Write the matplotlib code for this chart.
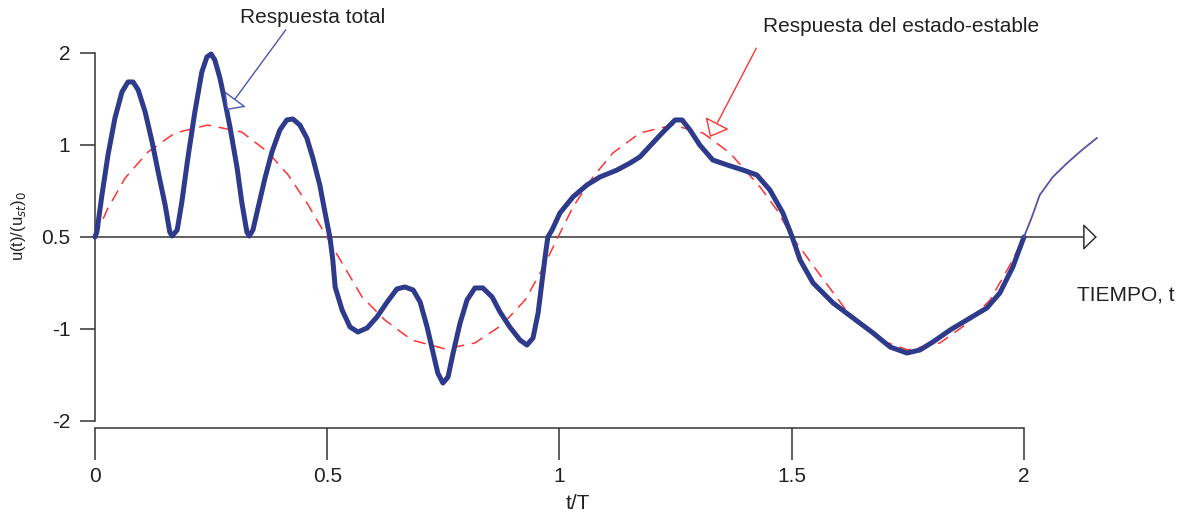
import matplotlib
matplotlib.use("Agg")
import matplotlib.pyplot as plt

plt.rcParams['font.family'] = ['Liberation Sans', 'DejaVu Sans']

# respuesta total (curva azul gruesa), t/T vs u
t_total = [0, 0.004, 0.015, 0.028, 0.043, 0.058, 0.071, 0.082, 0.093, 0.108, 0.123, 0.136, 0.151, 0.161, 0.166,
           0.177, 0.187, 0.200, 0.215, 0.230, 0.241, 0.250, 0.258, 0.269, 0.280, 0.291, 0.306, 0.316, 0.327,
           0.332, 0.340, 0.351, 0.366, 0.381, 0.398, 0.413, 0.426, 0.441, 0.456, 0.469, 0.484, 0.495, 0.506,
           0.512, 0.517, 0.532, 0.549, 0.566, 0.586, 0.607, 0.629, 0.650, 0.667, 0.685, 0.700, 0.715, 0.728,
           0.738, 0.749, 0.760, 0.771, 0.786, 0.801, 0.818, 0.835, 0.855, 0.872, 0.893, 0.915, 0.930, 0.943,
           0.954, 0.962, 0.969, 0.975, 0.984, 1.001, 1.029, 1.059, 1.087, 1.124, 1.152, 1.173,
           1.201, 1.223, 1.249, 1.264, 1.281, 1.302, 1.330, 1.361, 1.395, 1.425, 1.453, 1.481, 1.501, 1.518,
           1.546, 1.589, 1.632, 1.675, 1.712, 1.748, 1.776, 1.804, 1.841, 1.877, 1.920, 1.948, 1.976, 2.0]
u_total = [0, 0.054, 0.457, 0.891, 1.293, 1.576, 1.685, 1.685, 1.598, 1.359, 1.033, 0.707, 0.348, 0.054, 0.011,
           0.076, 0.380, 0.859, 1.359, 1.793, 1.957, 1.989, 1.924, 1.728, 1.467, 1.185, 0.750, 0.380, 0.054,
           0.011, 0.076, 0.315, 0.641, 0.924, 1.163, 1.272, 1.283, 1.217, 1.076, 0.859, 0.565, 0.272, -0.011,
           -0.25, -0.543, -0.793, -0.978, -1.033, -0.989, -0.870, -0.707, -0.565, -0.543, -0.576, -0.707, -0.978, -1.261,
           -1.478, -1.587, -1.522, -1.261, -0.935, -0.685, -0.554, -0.554, -0.652, -0.815, -0.978, -1.120, -1.174, -1.098,
           -0.826, -0.500, -0.217, 0.0, 0.076, 0.261, 0.435, 0.565, 0.652, 0.728, 0.804, 0.870,
           1.022, 1.141, 1.272, 1.272, 1.163, 1.0, 0.837, 0.783, 0.728, 0.674, 0.511, 0.261, 0.0, -0.25,
           -0.5, -0.717, -0.880, -1.043, -1.196, -1.261, -1.228, -1.141, -1.011, -0.902, -0.772, -0.609, -0.326, 0.0]

# continuacion despues de t/T = 2 (linea delgada)
t_cont = [2.0, 2.017, 2.034, 2.062, 2.093, 2.125, 2.157]
u_cont = [0.0, 0.217, 0.457, 0.652, 0.804, 0.946, 1.076]

# respuesta del estado-estable (rojo discontinuo)
t_ss = [0, 0.028, 0.065, 0.114, 0.172, 0.243, 0.316, 0.372, 0.416, 0.459, 0.499, 0.532, 0.575, 0.624,
        0.682, 0.754, 0.818, 0.876, 0.926, 0.962, 0.997, 1.029, 1.072, 1.115, 1.173, 1.244,
        1.309, 1.367, 1.432, 1.468, 1.501, 1.561, 1.625, 1.690, 1.750, 1.819, 1.873, 1.927, 1.970, 2.0]
u_ss = [0, 0.315, 0.641, 0.924, 1.130, 1.217, 1.141, 0.924, 0.674, 0.348, 0.0, -0.283, -0.652, -0.902,
        -1.120, -1.217, -1.152, -0.957, -0.685, -0.359, 0.0, 0.326, 0.652, 0.913, 1.130, 1.217,
        1.130, 0.913, 0.543, 0.293, 0.0, -0.413, -0.848, -1.120, -1.228, -1.152, -0.957, -0.685, -0.304, 0.0]

yticks = [2, 1, 0, -1, -2]
ytick_labels = ['2', '1', '0.5', '-1', '-2']
xticks = [0, 0.5, 1, 1.5, 2]
xtick_labels = ['0', '0.5', '1', '1.5', '2']

blue = '#2E3A8C'
red = '#FF3333'
ink = '#333333'

fig = plt.figure(figsize=(11.87, 5.21), dpi=100)
ax = fig.add_axes([0, 0, 1, 1])
ax.set_xlim(-0.2045, 2.351)
ax.set_ylim(-3.087, 2.576)

ax.plot(t_ss, u_ss, color=red, lw=1.1, dashes=(8, 5), zorder=2)
ax.plot(t_total, u_total, color=blue, lw=3.6, solid_capstyle='round', solid_joinstyle='round', zorder=3)
ax.plot(t_cont, u_cont, color='#4a56b0', lw=1.3, zorder=3)
ax.plot(t_cont, u_cont, color=red, lw=0.5, dashes=(3, 6), alpha=0.7, zorder=3)

# ejes
for s in ['top', 'right']:
    ax.spines[s].set_visible(False)
ax.spines['left'].set_position(('data', 0))
ax.spines['left'].set_bounds(-2, 2)
ax.spines['bottom'].set_position(('data', -2.076))
ax.spines['bottom'].set_bounds(0, 2)
for s in ['left', 'bottom']:
    ax.spines[s].set_color(ink)
    ax.spines[s].set_linewidth(1.1)
ax.set_yticks(yticks)
ax.set_yticklabels(ytick_labels)
ax.set_xticks(xticks)
ax.set_xticklabels(xtick_labels)
ax.tick_params(axis='y', direction='out', length=10.8, width=1.1, color=ink, pad=7, labelsize=15, labelcolor='#222222')
ax.tick_params(axis='x', direction='out', length=23, width=1.1, color=ink, pad=5, labelsize=15, labelcolor='#222222')

# eje de tiempo con flecha
ax.annotate('', xy=(2.157, 0), xytext=(0, 0),
            arrowprops=dict(arrowstyle='-|>,head_length=0.43,head_width=0.42', fc='white', ec=ink,
                            lw=1.1, shrinkA=0, shrinkB=0, mutation_scale=20), zorder=1)

ax.text(2.114, -0.63, 'TIEMPO, t', fontsize=15, color='#222222', ha='left', va='center')
ax.text(1.040, -2.902, 't/T', fontsize=15, color='#222222', ha='center', va='center')
ax.text(-0.1636, 0.12, r'u(t)/(u$_{st}$)$_0$', fontsize=12, color='#222222', rotation=90,
        ha='center', va='center')

ax.annotate('Respuesta total', xy=(0.284, 1.380), xytext=(0.312, 2.386), fontsize=15, color='#222222',
            va='center', ha='left',
            arrowprops=dict(arrowstyle='-|>,head_length=0.44,head_width=0.43', fc='white', ec='#4a56b0',
                            lw=1.0, shrinkA=0, shrinkB=0, mutation_scale=20,
                            relpos=(0.33, 0.0)))
ax.annotate('Respuesta del estado-estable', xy=(1.324, 1.087), xytext=(1.438, 2.293), fontsize=15,
            color='#222222', va='center', ha='left',
            arrowprops=dict(arrowstyle='-|>,head_length=0.5,head_width=0.42', fc='white', ec=red,
                            lw=1.0, shrinkA=8, shrinkB=0, mutation_scale=20,
                            relpos=(0.0, 0.0)))

fig.savefig('out.png', dpi=100, facecolor='white')
